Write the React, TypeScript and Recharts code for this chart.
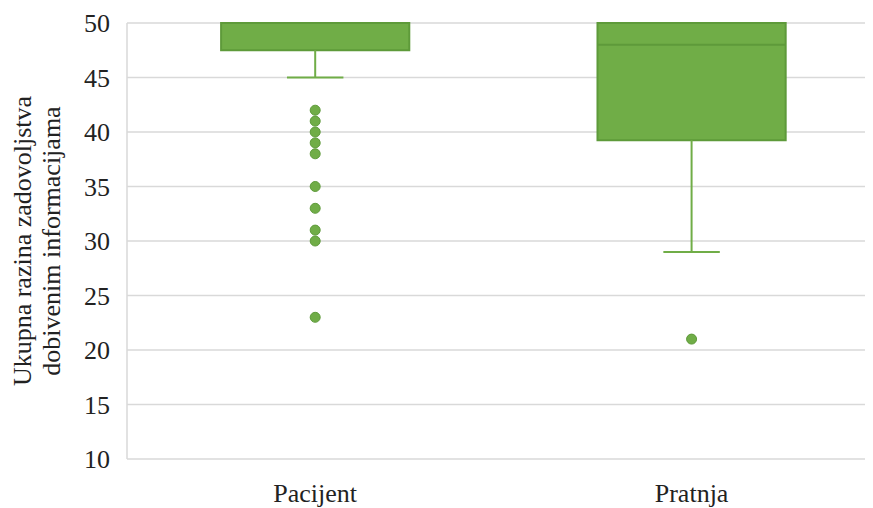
import React from 'react';
import {
  ComposedChart,
  XAxis,
  YAxis,
  CartesianGrid,
  ReferenceArea,
  ReferenceLine,
  Scatter,
} from 'recharts';

const categories = ['Pacijent', 'Pratnja'];
const q1 = [47.5, 39.25];
const median = [50, 48];
const q3 = [50, 50];
const whiskerLow = [45, 29];
const whiskerHigh = [50, 50];
const outliersPacijent = [42, 41, 40, 39, 38, 35, 33, 31, 30, 23];
const outliersPratnja = [21];
const yTicks = [10, 15, 20, 25, 30, 35, 40, 45, 50];

const FONT = "'Liberation Serif', 'Times New Roman', Times, serif";
const FS = 26;
const GREEN = '#70AD47';
const DARK = '#5E9A3A';

const positions = categories.map((_, i) => i + 0.5);
const outlierData = [
  ...outliersPacijent.map((v) => ({ x: positions[0], y: v })),
  ...outliersPratnja.map((v) => ({ x: positions[1], y: v })),
];

const YLabel = (props: any) => {
  const vb = props.viewBox || {};
  const cy = vb.y + vb.height / 2;
  const cx = 23;
  return (
    <text
      transform={`translate(${cx}, ${cy}) rotate(-90)`}
      textAnchor="middle"
      style={{ fontFamily: FONT, fontSize: FS }}
      fill="#222"
    >
      <tspan x={0} dy={0}>Ukupna razina zadovoljstva</tspan>
      <tspan x={0} dy={29}>dobivenim informacijama</tspan>
    </text>
  );
};

export default function App() {
  return (
    <div style={{ fontFamily: FONT }}>
      <ComposedChart
        width={865}
        height={500}
        margin={{ top: 15, right: 0, left: 0, bottom: 0 }}
        data={outlierData}
        style={{ fontFamily: FONT }}
      >
        <CartesianGrid horizontal vertical={false} stroke="#d9d9d9" strokeWidth={1.5} />
        <XAxis
          type="number"
          dataKey="x"
          domain={[0, 1.982]}
          allowDataOverflow
          ticks={positions}
          tickFormatter={(v: number) => categories[Math.floor(v)]}
          axisLine={false}
          tickLine={false}
          tickSize={0}
          tickMargin={25}
          height={49}
          tick={{ fontSize: FS, fill: '#222', style: { fontFamily: FONT } }}
        />
        <YAxis
          type="number"
          domain={[10, 50]}
          ticks={yTicks}
          allowDataOverflow
          width={119}
          axisLine={{ stroke: '#d9d9d9', strokeWidth: 1.5 }}
          tickLine={false}
          tickSize={0}
          tickMargin={17}
          tick={{ fontSize: FS, fill: '#222', style: { fontFamily: FONT } }}
          label={{ content: <YLabel /> }}
        />
        {positions.map((p, i) => (
          <ReferenceLine
            key={`wl-${i}`}
            segment={[
              { x: p, y: q1[i] },
              { x: p, y: whiskerLow[i] },
            ]}
            stroke={GREEN}
            strokeWidth={2}
          />
        ))}
        {positions.map((p, i) => (
          <ReferenceLine
            key={`cap-${i}`}
            segment={[
              { x: p - 0.075, y: whiskerLow[i] },
              { x: p + 0.075, y: whiskerLow[i] },
            ]}
            stroke={GREEN}
            strokeWidth={2}
          />
        ))}
        {positions.map((p, i) =>
          whiskerHigh[i] > q3[i] ? (
            <ReferenceLine
              key={`wh-${i}`}
              segment={[
                { x: p, y: q3[i] },
                { x: p, y: whiskerHigh[i] },
              ]}
              stroke={GREEN}
              strokeWidth={2}
            />
          ) : null
        )}
        {positions.map((p, i) => (
          <ReferenceArea
            key={`box-${i}`}
            x1={p - 0.25}
            x2={p + 0.25}
            y1={q1[i]}
            y2={q3[i]}
            fill={GREEN}
            fillOpacity={1}
            stroke={DARK}
            strokeWidth={2}
          />
        ))}
        {positions.map((p, i) => (
          <ReferenceLine
            key={`med-${i}`}
            segment={[
              { x: p - 0.25, y: median[i] },
              { x: p + 0.25, y: median[i] },
            ]}
            stroke={DARK}
            strokeWidth={2}
          />
        ))}
        <Scatter
          data={outlierData}
          dataKey="y"
          isAnimationActive={false}
          shape={(props: any) => (
            <circle cx={props.cx} cy={props.cy} r={5} fill={GREEN} stroke={DARK} strokeWidth={1} />
          )}
        />
      </ComposedChart>
    </div>
  );
}
